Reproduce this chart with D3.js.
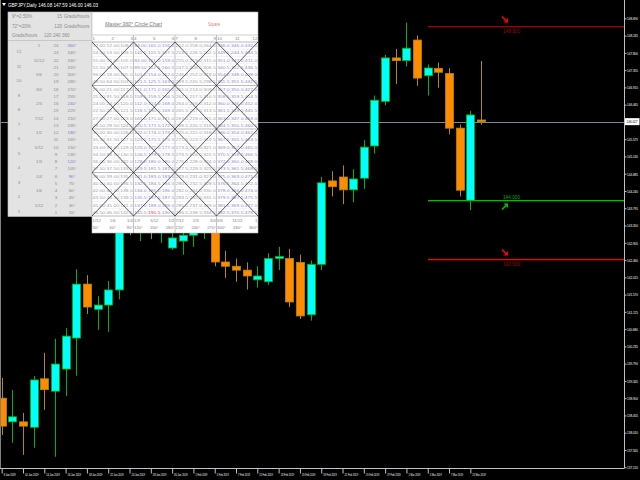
<!DOCTYPE html>
<html><head><meta charset="utf-8">
<script src="https://cdn.jsdelivr.net/npm/d3@7"></script>
<style>html,body{margin:0;padding:0;background:#000;}svg{display:block;}</style>
</head><body>
<svg id="c" width="640" height="480"></svg>
<script>
// ---------- DATA ----------
const dates = ["8 Jan","9 Jan","10 Jan","11 Jan","14 Jan","15 Jan","16 Jan","17 Jan","18 Jan","21 Jan","22 Jan","23 Jan","24 Jan","25 Jan","28 Jan","29 Jan","30 Jan","31 Jan","1 Feb","4 Feb","5 Feb","6 Feb","7 Feb","8 Feb","11 Feb","12 Feb","13 Feb","14 Feb","15 Feb","18 Feb","19 Feb","20 Feb","21 Feb","22 Feb","25 Feb","26 Feb","27 Feb","28 Feb","1 Mar","4 Mar","5 Mar","6 Mar","7 Mar","8 Mar","11 Mar","12 Mar"];
const opens  = [138.90,138.29,138.29,138.15,139.40,139.08,139.65,140.45,141.84,141.19,141.30,141.69,143.60,143.35,143.55,143.20,142.77,142.95,143.10,143.40,143.55,142.41,142.30,142.20,141.95,141.90,142.50,142.50,142.40,141.05,142.35,144.50,144.60,144.27,144.57,145.40,146.55,147.67,147.60,148.13,147.21,147.40,147.27,145.86,144.00,146.07];
const highs  = [139.42,139.11,138.52,139.47,140.07,140.43,140.71,142.22,142.07,141.53,141.92,143.90,144.00,143.70,143.95,143.75,143.60,143.40,143.60,143.90,143.80,142.70,142.50,142.40,142.30,142.63,142.80,142.75,142.60,142.45,144.60,144.75,144.90,144.80,145.55,146.70,147.75,147.90,148.58,148.25,147.50,147.55,147.40,145.95,146.30,147.59];
const lows   = [137.95,137.75,137.44,137.62,138.60,137.39,138.96,139.48,141.07,140.66,140.61,141.45,143.10,142.95,143.00,142.90,142.72,142.60,142.80,143.00,142.30,142.00,141.90,141.70,141.75,141.82,142.20,141.25,140.94,140.90,142.20,144.10,143.90,143.95,144.30,145.20,146.45,147.00,147.45,146.95,146.70,146.90,145.70,144.10,143.75,145.95];
const closes = [138.18,138.42,138.18,139.37,139.12,139.78,140.50,141.84,141.25,141.30,141.69,143.60,143.35,143.55,143.20,143.50,143.03,143.10,143.40,143.55,142.41,142.30,142.20,142.05,142.05,142.50,142.55,141.38,141.02,142.35,144.45,144.35,144.27,144.55,145.37,146.58,147.67,147.60,147.92,147.15,147.41,147.30,145.86,144.26,146.20,146.027];
const dateTickIdx = [0,2,4,6,8,10,12,14,16,18,20,22,24,26,28,30,32,34,36,38,40,42,44];
const priceTicks = [148.690,148.245,147.800,147.355,146.910,146.465,146.020,145.575,145.130,144.685,144.240,143.795,143.350,142.905,142.460,142.015,141.570,141.125,140.680,140.235,139.790,139.345,138.900,138.455,138.010,137.565,137.120];
const levels = [148.500, 144.000, 142.500];
const levelKinds = ["down", "up", "down"];
const currentPrice = 146.027;
const headerText = "GBPJPY,Daily  146.08 147.59 146.00 146.03";

// Gann panel texts
const panelTopLeft = ["9°=2.50%", "72°=20%", "Grads/hours"];
const panelTopMid = ["15", "120", "120  240  360"];
const panelTopRight = ["Grads/hours", "Grads/hours", ""];
const clockHours = ["12","11","10","9","8","7","6","5","4","3","2","1"];
const clockFracs = ["1","11/12","5/6","3/4","2/3","7/12","1/2","5/12","1/3","1/4","1/6","1/12"];
const steps24 = ["24","23","22","21","20","19","18","17","16","15","14","13","12","11","10","9","8","7","6","5","4","3","2","1"];
const degrees24 = ["360°","345°","330°","315°","300°","285°","270°","255°","240°","225°","210°","195°","180°","165°","150°","135°","120°","105°","90°","75°","60°","45°","30°","15°"];
const colHeads = ["1","2","3","4","5","6","7","8","9","10","11","12"];
const footFracs = ["1/12","1/6","1/4","1/3","5/12","1/2","7/12","2/3","3/4","5/6","11/12","1"];
const footDegs = ["30°","60°","90°","120°","150°","180°","210°","240°","270°","300°","330°","360°"];
const squareRows = [
"12.00 12.00 108.0 84.00 165.0 156.0 252.0 258.0 264.0 336.0 346.0 432.0",
"54.50 13.50 109.5 142.5 115.5 157.5 253.5 226.5 262.5 349.5 244.5 434.5",
"55.00 15.00 105.0 84.00 111.0 159.0 255.0 219.0 315.0 351.0 347.0 411.0",
"51.50 16.50 107.5 89.50 112.5 160.5 247.5 208.5 306.5 340.5 352.5 436.5",
"96.00 18.00 105.0 101.0 154.0 162.0 246.0 252.0 318.0 354.0 348.0 438.0",
"49.50 64.50 103.5 121.5 125.5 163.5 259.5 220.5 298.5 355.5 351.5 442.5",
"21.00 21.00 117.0 111.0 171.0 165.0 261.0 214.0 309.0 357.0 350.0 427.0",
"25.50 91.50 118.5 159.5 159.5 166.5 262.5 217.5 310.5 358.5 359.5 454.5",
"24.00 24.00 120.0 112.0 124.0 168.0 264.0 216.0 312.0 360.0 346.0 452.0",
"22.50 25.50 121.5 118.5 130.5 169.5 265.5 257.5 313.5 361.5 349.5 445.5",
"27.00 27.00 123.0 165.0 171.0 171.0 267.0 219.0 315.0 363.0 347.0 459.0",
"28.50 28.50 124.5 120.5 172.5 172.5 268.5 220.5 316.5 364.5 350.5 460.5",
"30.00 30.00 126.0 122.0 174.0 174.0 270.0 222.0 318.0 366.0 354.0 462.0",
"31.50 31.50 127.5 123.5 175.5 175.5 271.5 223.5 319.5 367.5 355.5 463.5",
"33.00 33.00 129.0 125.0 177.0 177.0 273.0 225.0 321.0 369.0 357.0 465.0",
"34.50 34.50 130.5 126.5 178.5 178.5 274.5 226.5 322.5 370.5 358.5 466.5",
"36.00 36.00 132.0 128.0 180.0 180.0 276.0 228.0 324.0 372.0 360.0 468.0",
"37.50 37.50 133.5 129.5 181.5 181.5 277.5 229.5 325.5 373.5 361.5 469.5",
"39.00 39.00 135.0 131.0 183.0 183.0 279.0 231.0 327.0 375.0 363.0 471.0",
"40.50 40.50 136.5 132.5 184.5 184.5 280.5 232.5 328.5 376.5 364.5 472.5",
"42.00 42.00 138.0 134.0 186.0 186.0 282.0 234.0 330.0 378.0 366.0 474.0",
"43.50 43.50 139.5 135.5 187.5 187.5 283.5 235.5 331.5 379.5 367.5 475.5",
"45.00 45.00 141.0 137.0 189.0 189.0 285.0 237.0 333.0 381.0 369.0 477.0",
"46.50 46.50 142.5 145.5 190.5 190.5 286.5 238.5 334.5 382.5 370.5 478.5"];

// ---------- DRAW ----------
const FONT = "'Liberation Sans Narrow','Liberation Sans',Arial,sans-serif";
const svg = d3.select("#c");
svg.append("rect").attr("width",640).attr("height",480).attr("fill","#000");

const plotR = 624, plotB = 468;
const x = d3.scalePoint().domain(d3.range(dates.length)).range([1.7, 481]);
const y = d3.scaleLinear().domain([144, 148.5]).range([200.3, 25.7]);

const candles = d3.range(dates.length).map(i => ({i, o:opens[i], h:highs[i], l:lows[i], c:closes[i]}));

// current price line (behind)
svg.append("line").attr("x1",0).attr("x2",plotR).attr("y1",Math.round(y(currentPrice))+0.5).attr("y2",Math.round(y(currentPrice))+0.5)
  .attr("stroke","#778899").attr("stroke-width",1).attr("shape-rendering","crispEdges");

// candles
const cg = svg.append("g");
cg.selectAll("line.w").data(candles).join("line")
  .attr("x1",d=>Math.round(x(d.i))+0.5).attr("x2",d=>Math.round(x(d.i))+0.5)
  .attr("y1",d=>y(d.h)).attr("y2",d=>y(d.l))
  .attr("stroke",d=>d.c>=d.o?"#00B400":"#B8860B").attr("stroke-width",1);
cg.selectAll("rect.b").data(candles).join("rect")
  .attr("x",d=>Math.round(x(d.i))-3.5).attr("width",8)
  .attr("y",d=>y(Math.max(d.o,d.c)))
  .attr("height",d=>Math.max(1,Math.abs(y(d.o)-y(d.c))))
  .attr("fill",d=>d.c>=d.o?"#00FFFF":"#FF8C00")
  .attr("stroke",d=>d.c>=d.o?"#00B400":"#B8860B").attr("stroke-width",0.8);

// level lines
const levelColors = ["#A00000","#00C000","#FF0000"];
const labelColors = ["#A00000","#00B000","#A00000"];
const arrowColors = ["#FF0000","#00C000","#FF0000"];
const lg = svg.append("g");
levels.forEach((v,k)=>{
  const yy = Math.round(y(v))+0.5;
  lg.append("rect").attr("x",428).attr("width",plotR-428).attr("y",yy-0.5).attr("height",1.3).attr("fill",levelColors[k]);
  const ly = k===1 ? yy-2 : yy+6;
  lg.append("text").attr("x",503).attr("y",ly).attr("fill",labelColors[k]).attr("font-size",5.5).attr("font-family",FONT)
    .attr("textLength",17).attr("lengthAdjust","spacingAndGlyphs").text(v.toFixed(3));
  const ax = 502, ay = levelKinds[k]==="down" ? yy-10 : yy+2;
  const a = lg.append("g").attr("transform",`translate(${ax},${ay})`);
  if(levelKinds[k]==="down"){
    a.append("path").attr("d","M0,0 L5,5").attr("stroke",arrowColors[k]).attr("stroke-width",1.6);
    a.append("path").attr("d","M6,6 L6,1.5 L1.5,6 Z").attr("fill",arrowColors[k]);
  } else {
    a.append("path").attr("d","M0,7 L5,2").attr("stroke",arrowColors[k]).attr("stroke-width",1.6);
    a.append("path").attr("d","M6,1 L6,5.5 L1.5,1 Z").attr("fill",arrowColors[k]);
  }
});

// axes frame
svg.append("line").attr("x1",plotR+0.5).attr("x2",plotR+0.5).attr("y1",0).attr("y2",plotB).attr("stroke","#C0C0C0");
svg.append("line").attr("x1",0).attr("x2",plotR+0.5).attr("y1",plotB+0.5).attr("y2",plotB+0.5).attr("stroke","#C0C0C0");
svg.append("line").attr("x1",0.5).attr("x2",0.5).attr("y1",0).attr("y2",plotB).attr("stroke","#808080");

// right axis
const ra = svg.append("g").attr("transform",`translate(${plotR+0.5},0)`)
  .call(d3.axisRight(y).tickValues(priceTicks).tickSize(2).tickFormat(d3.format(".3f")));
ra.select(".domain").remove();
ra.selectAll("line").attr("stroke","#C0C0C0");
ra.selectAll("text").attr("fill","#FFFFFF").attr("font-size",4).attr("font-family",FONT).attr("x",2.5)
  .attr("textLength",11).attr("lengthAdjust","spacingAndGlyphs");
// price box
const py = y(currentPrice);
svg.append("rect").attr("x",plotR+1).attr("y",py-3.5).attr("width",14.5).attr("height",7).attr("fill","#FFFFFF");
svg.append("text").attr("x",plotR+2.5).attr("y",py+1.8).attr("font-size",4).attr("font-family",FONT).attr("fill","#000")
  .attr("textLength",11).attr("lengthAdjust","spacingAndGlyphs").text(currentPrice.toFixed(3));

// bottom axis
const ba = svg.append("g").attr("transform",`translate(0,${plotB+0.5})`)
  .call(d3.axisBottom(x).tickValues(dateTickIdx).tickSize(5).tickFormat(i=>dates[i]+" 2019"));
ba.select(".domain").remove();
ba.selectAll("line").attr("stroke","#C0C0C0");
ba.selectAll("text").attr("fill","#FFFFFF").attr("font-size",4).attr("font-family",FONT)
  .attr("text-anchor","start").attr("x",1.5).attr("y",5).attr("dy","0.71em")
  .attr("textLength",d=>dates[d].length>5?13.5:12).attr("lengthAdjust","spacingAndGlyphs");

// header
svg.append("path").attr("d","M2,3 L6,3 L4,6 Z").attr("fill","#FFFFFF");
svg.append("text").attr("x",8).attr("y",7).attr("fill","#FFFFFF").attr("font-size",5.5).attr("font-family",FONT)
  .attr("textLength",90).attr("lengthAdjust","spacingAndGlyphs").text(headerText);

// ---------- GANN PANEL ----------
const P = svg.append("g").attr("font-family",FONT);
const LX0=8, LX1=92, TX1=258, TY0=12, GY0=42, GY1=216, TB=233, LB=216.5;
const rowH = (GY1-GY0)/24, colW = (TX1-LX1)/12;
P.append("rect").attr("x",LX0).attr("y",TY0).attr("width",LX1-LX0).attr("height",LB-TY0).attr("fill","#E3E3E3").attr("stroke","#C4C4C4").attr("stroke-width",0.6);
P.append("rect").attr("x",LX1).attr("y",TY0).attr("width",TX1-LX1).attr("height",TB-TY0).attr("fill","#FFFFFF").attr("stroke","#B8B8B8").attr("stroke-width",0.6);
P.append("line").attr("x1",LX0).attr("x2",LX1).attr("y1",40.5).attr("y2",40.5).attr("stroke","#B4B4B4").attr("stroke-width",0.6);

const tl = P.append("g").attr("fill","#8C8C8C").attr("font-size",4.6);
panelTopLeft.forEach((t,k)=>tl.append("text").attr("x",12).attr("y",18+k*9.5).text(t));
panelTopMid.forEach((t,k)=>tl.append("text").attr("x",k<2?62:44).attr("y",18+k*9.5).attr("text-anchor",k<2?"end":"start").text(t));
panelTopRight.forEach((t,k)=>tl.append("text").attr("x",64).attr("y",18+k*9.5).text(t));

const lc = P.append("g").attr("font-size",4.4).attr("text-anchor","middle");
clockHours.forEach((t,k)=>lc.append("text").attr("x",19).attr("y",GY0+rowH*(2*k+1.3)+1.6).attr("fill","#8C8C8C").text(t));
clockFracs.forEach((t,k)=>lc.append("text").attr("x",39).attr("y",GY0+rowH*(2*k+0.5)+1.6).attr("fill","#8C8C8C").text(t));
steps24.forEach((t,k)=>lc.append("text").attr("x",56).attr("y",GY0+rowH*(k+0.5)+1.6).attr("fill","#8C8C8C").text(t));
const blueDeg = new Set(["360°","240°","180°","120°","90°"]);
degrees24.forEach((t,k)=>lc.append("text").attr("x",72).attr("y",GY0+rowH*(k+0.5)+1.6).attr("fill",blueDeg.has(t)?"#7C7CD0":"#8C8C8C").text(t));

P.append("text").attr("x",105).attr("y",25.5).attr("font-size",6).attr("fill","#7A7A7A").attr("font-style","italic")
  .attr("textLength",57).attr("lengthAdjust","spacingAndGlyphs").attr("text-decoration","underline").text("Master 360° Circle Chart");
P.append("text").attr("x",208).attr("y",25.5).attr("font-size",6).attr("fill","#E07A7A")
  .attr("textLength",12).attr("lengthAdjust","spacingAndGlyphs").text("Square");
P.append("line").attr("x1",LX1).attr("x2",TX1).attr("y1",35).attr("y2",35).attr("stroke","#B0B0B0").attr("stroke-width",0.6);

const grid = P.append("g");
for(let r=0;r<=24;r++){
  const yy = GY0 + r*rowH;
  grid.append("line").attr("x1",LX1).attr("x2",TX1).attr("y1",yy).attr("y2",yy)
    .attr("stroke", r%6===0 ? "#A8A8A8" : "#E4E4E4").attr("stroke-width", r%6===0?0.8:0.5);
}
for(let c=1;c<12;c++){
  const xx = LX1 + c*colW;
  grid.append("line").attr("x1",xx).attr("x2",xx).attr("y1",c%3===0?35:GY0).attr("y2",c%3===0?TB:GY1)
    .attr("stroke", c%3===0 ? "#A8A8A8" : "#E4E4E4").attr("stroke-width",c%3===0?0.7:0.5);
}

colHeads.forEach((t,c)=>{
  const blk = LX1 + Math.floor(c/3)*colW*3;
  const pos = c%3===0 ? blk+0.6 : c%3===1 ? blk+colW*1.5 : blk+colW*3-0.6;
  const anc = c%3===0 ? "start" : c%3===1 ? "middle" : "end";
  P.append("text").attr("x",pos).attr("y",40.2).attr("font-size",4.4).attr("fill","#808080").attr("text-anchor",anc).text(t);
  P.append("text").attr("x",pos).attr("y",221.5).attr("font-size",4.2).attr("fill","#808080").attr("text-anchor",anc).text(footFracs[c]);
  P.append("text").attr("x",pos).attr("y",228.5).attr("font-size",4.2).attr("fill","#808080").attr("text-anchor",anc).text(footDegs[c]);
});

const cells = P.append("g").attr("font-size",4.3);
squareRows.forEach((row,r)=>{
  row.split(" ").forEach((v,c)=>{
    const blueBlock = Math.floor(c/3)%2===1;
    let col = blueBlock ? "#8A8AD0" : "#9C9CA8";
    if(r===23 && c===4) col = "#FF3030";
    cells.append("text").attr("x",LX1 + c*colW + 0.7).attr("y",GY0 + r*rowH + rowH*0.5 + 1.6)
      .attr("fill",col).attr("textLength",12.4).attr("lengthAdjust","spacingAndGlyphs").text(v);
  });
});

const clipId = "gclip";
P.append("clipPath").attr("id",clipId).append("rect").attr("x",LX1).attr("y",GY0).attr("width",TX1-LX1).attr("height",GY1-GY0);
const dg = P.append("g").attr("clip-path",`url(#${clipId})`).attr("stroke","#1A1A1A").attr("stroke-width",0.7);
const half = colW*1.5, dh = rowH*3;
for(let m=-10;m<=14;m++){
  const x0 = LX1 + m*2*half;
  dg.append("line").attr("x1",x0).attr("y1",GY0).attr("x2",x0+half*8).attr("y2",GY0+dh*8);
  dg.append("line").attr("x1",x0).attr("y1",GY0).attr("x2",x0-half*8).attr("y2",GY0+dh*8);
}
</script>
</body></html>
